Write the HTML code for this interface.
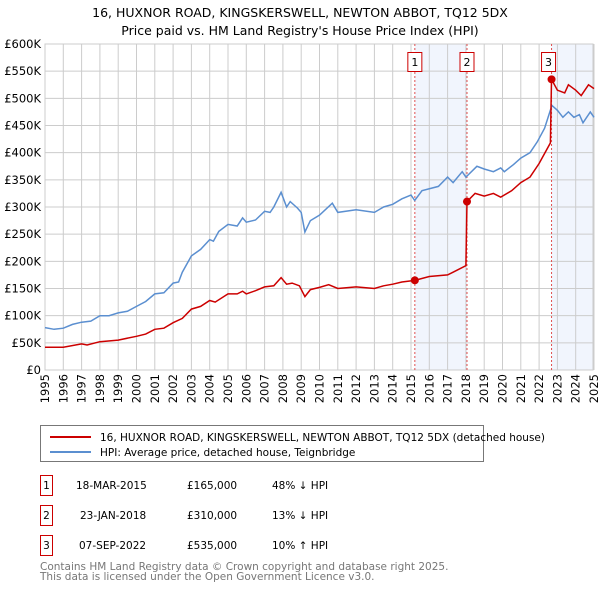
<!DOCTYPE html>
<html><head><meta charset="utf-8"><style>
body{margin:0;background:#fff;font-family:"Liberation Sans","DejaVu Sans",sans-serif;}
svg text{font-family:"DejaVu Sans","Liberation Sans",sans-serif;}
</style></head><body>
<svg width="600" height="590" viewBox="0 0 600 590" xmlns="http://www.w3.org/2000/svg">
<text x="300" y="17" text-anchor="middle" font-size="12.5">16, HUXNOR ROAD, KINGSKERSWELL, NEWTON ABBOT, TQ12 5DX</text>
<text x="300" y="35" text-anchor="middle" font-size="12.5">Price paid vs. HM Land Registry's House Price Index (HPI)</text>
<g id="plot"></g>
<g>
<rect x="40.5" y="425.5" width="443" height="36" fill="#fff" stroke="#777"/>
<line x1="50" y1="437" x2="91" y2="437" stroke="#cc0000" stroke-width="2"/>
<text x="100" y="441" font-size="10.5">16, HUXNOR ROAD, KINGSKERSWELL, NEWTON ABBOT, TQ12 5DX (detached house)</text>
<line x1="50" y1="452" x2="91" y2="452" stroke="#5b8fd0" stroke-width="2"/>
<text x="100" y="456" font-size="10.5">HPI: Average price, detached house, Teignbridge</text>
</g>
<g font-size="10.5">
<rect x="40.5" y="475.5" width="12" height="20" fill="#fff" stroke="#cc0000"/><text x="46.5" y="489" text-anchor="middle">1</text>
<text x="76" y="489">18-MAR-2015</text><text x="187" y="489">£165,000</text><text x="272" y="489">48% ↓ HPI</text>
<rect x="40.5" y="505.5" width="12" height="20" fill="#fff" stroke="#cc0000"/><text x="46.5" y="519" text-anchor="middle">2</text>
<text x="80" y="519">23-JAN-2018</text><text x="187" y="519">£310,000</text><text x="272" y="519">13% ↓ HPI</text>
<rect x="40.5" y="535.5" width="12" height="20" fill="#fff" stroke="#cc0000"/><text x="46.5" y="549" text-anchor="middle">3</text>
<text x="79" y="549">07-SEP-2022</text><text x="187" y="549">£535,000</text><text x="272" y="549">10% ↑ HPI</text>
</g>
<text x="40" y="570" font-size="10.5" fill="#777">Contains HM Land Registry data © Crown copyright and database right 2025.</text>
<text x="40" y="580" font-size="10.5" fill="#777">This data is licensed under the Open Government Licence v3.0.</text>
</svg>
<script>
const yTicks=[0,50,100,150,200,250,300,350,400,450,500,550,600];
const yTickLabels=["£0","£50K","£100K","£150K","£200K","£250K","£300K","£350K","£400K","£450K","£500K","£550K","£600K"];
const xYears=[1995,1996,1997,1998,1999,2000,2001,2002,2003,2004,2005,2006,2007,2008,2009,2010,2011,2012,2013,2014,2015,2016,2017,2018,2019,2020,2021,2022,2023,2024,2025];
const hpiT=[1995,1995.5,1996,1996.5,1997,1997.5,1998,1998.5,1999,1999.5,2000,2000.5,2001,2001.5,2002,2002.3,2002.5,2003,2003.5,2004,2004.2,2004.5,2005,2005.5,2005.8,2006,2006.5,2007,2007.3,2007.5,2007.9,2008.2,2008.4,2008.8,2009,2009.2,2009.5,2010,2010.7,2011,2012,2013,2013.5,2014,2014.5,2015,2015.2,2015.6,2016.5,2017,2017.3,2017.8,2018,2018.6,2019,2019.5,2019.9,2020.1,2020.6,2021,2021.5,2021.9,2022.3,2022.7,2023,2023.3,2023.6,2023.9,2024.2,2024.4,2024.8,2025];
const hpiV=[78,75,77,84,88,90,100,100,105,108,117,126,140,142,160,162,180,210,222,240,237,255,268,265,280,272,276,292,290,300,327,300,310,298,290,254,275,285,307,290,295,290,300,305,315,322,312,330,338,355,345,365,355,375,370,365,372,365,378,390,400,420,445,487,478,465,475,465,470,455,475,465];
const ppT=[1995,1996,1997,1997.3,1998,1999,2000,2000.5,2001,2001.5,2002,2002.5,2003,2003.5,2004,2004.3,2005,2005.5,2005.8,2006,2006.5,2007,2007.5,2007.9,2008.2,2008.5,2008.9,2009.2,2009.5,2010,2010.5,2011,2012,2013,2013.5,2014,2014.5,2015.21,2016,2017,2017.3,2018.0,2018.06,2018.5,2019,2019.5,2019.9,2020.5,2021,2021.5,2022,2022.62,2022.68,2023,2023.4,2023.6,2024,2024.3,2024.7,2025];
const ppV=[42,42,48,46,52,55,62,66,75,77,87,95,112,117,128,125,140,140,145,140,146,153,155,170,158,160,155,135,148,152,157,150,153,150,155,158,162,165,172,175,180,192,310,325,320,325,318,330,345,355,380,418,535,515,510,525,515,505,525,518];
const saleT=[2015.21,2018.06,2022.68];
const saleV=[165,310,535];
const saleLabels=["1","2","3"];

const X0=45,PX=18.3,Y0=370,PY=326/600,RIGHT=593;
const sx=t=>X0+(t-1995)*PX, sy=v=>Y0-v*PY;
const NS="http://www.w3.org/2000/svg";
const g=document.getElementById('plot');
function mk(tag,attrs){const e=document.createElementNS(NS,tag);for(const k in attrs)e.setAttribute(k,attrs[k]);g.appendChild(e);return e;}
// shading
let s1=mk('rect',{x:sx(saleT[0]),y:sy(600),width:sx(saleT[1])-sx(saleT[0]),height:sy(0)-sy(600),fill:'#eef3fc',opacity:0.8});


let s2=mk('rect',{x:sx(saleT[2]),y:sy(600),width:RIGHT-sx(saleT[2]),height:sy(0)-sy(600),fill:'#eef3fc',opacity:0.8});


// grid
yTicks.forEach((v,i)=>{
 let l=mk('line',{x1:X0,x2:RIGHT,y1:sy(v),y2:sy(v),stroke:'#ccc','stroke-width':1});
 
 
 let t=mk('text',{x:41,y:sy(v)+4,'text-anchor':'end','font-size':11.5});
 t.textContent=yTickLabels[i];
 
 
});
xYears.forEach(y=>{
 let l=mk('line',{x1:sx(y),x2:sx(y),y1:sy(600),y2:sy(0),stroke:'#ccc','stroke-width':1});
 
 
 let t=mk('text',{x:0,y:0,'font-size':11.5,'text-anchor':'end',transform:`translate(${sx(y)+4},374) rotate(-90)`});
 t.textContent=y;
 
 
});
let fr=mk('rect',{x:X0,y:sy(600),width:RIGHT-X0,height:sy(0)-sy(600),fill:'none',stroke:'#ccc'});


// sale lines
saleT.forEach((t,i)=>{
 let l=mk('line',{x1:sx(t),x2:sx(t),y1:sy(600),y2:sy(0),stroke:'#e05050','stroke-width':1,'stroke-dasharray':'2,2'});
 
 
});
const path=(T,V)=>T.map((t,i)=>(i?'L':'M')+sx(t).toFixed(1)+','+sy(V[i]).toFixed(1)).join('');
let hp=mk('path',{d:path(hpiT,hpiV),fill:'none',stroke:'#5b8fd0','stroke-width':1.5});


let pp=mk('path',{d:path(ppT,ppV),fill:'none',stroke:'#cc0000','stroke-width':1.5});


saleT.forEach((t,i)=>{
 let c=mk('circle',{cx:sx(t),cy:sy(saleV[i]),r:4,fill:'#cc0000'});
 
 
 let bx=sx(t)-(i==2?3:0)-7;
 let r=mk('rect',{x:bx,y:52.5,width:14,height:19,fill:'#fff',stroke:'#cc0000'});
 
 
 let tx=mk('text',{x:bx+7,y:66,'text-anchor':'middle','font-size':11});
 tx.textContent=saleLabels[i];
 
 
});
</script>
</body></html>
